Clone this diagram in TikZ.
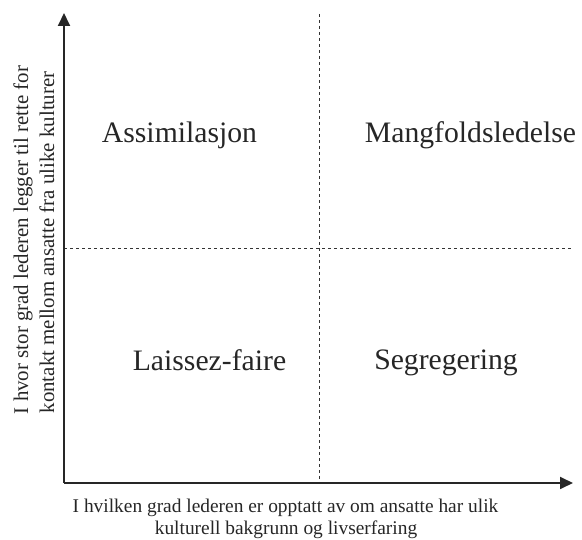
\documentclass[tikz,border=0pt]{standalone}
\usepackage{fontspec}
\setmainfont{Liberation Serif}
\usetikzlibrary{arrows.meta}
\begin{document}
\begin{tikzpicture}[x=1pt,y=-1pt,
  axis/.style={line width=1.8pt,draw=black!85,-{Triangle[length=13pt,width=12pt]}},
  divider/.style={line width=0.8pt,draw=black!80,dash pattern=on 3pt off 3pt},
  quad/.style={anchor=base,inner sep=0pt,font=\fontsize{29.7}{34}\selectfont,text=black!85},
  xlab/.style={anchor=base,inner sep=0pt,font=\fontsize{19.4}{23}\selectfont,text=black!85},
  ylab/.style={anchor=base,inner sep=0pt,rotate=90,font=\fontsize{20.9}{24}\selectfont,text=black!85}]
\useasboundingbox (0,0) rectangle (582,540);
\coordinate (O) at (64,483);
\coordinate (Ytop) at (64,13);
\coordinate (Xend) at (573,483);
\coordinate (Vtop) at (319,14);
\coordinate (Vbot) at (319,483);
\coordinate (Hl) at (64,248);
\coordinate (Hr) at (572,248);
\draw[divider] (Vtop) -- (Vbot);
\draw[divider] (Hl) -- (Hr);
\draw[axis] (O) -- (Ytop);
\draw[axis] (O) -- (Xend);
\node[quad] (assim) at (179.5,143) {Assimilasjon};
\node[quad] (mangf) at (470.5,143) {Mangfoldsledelse};
\node[quad] (laiss) at (209.5,371) {Laissez-faire};
\node[quad] (segr) at (446,370) {Segregering};
\node[xlab] (xl1) at (285.5,513) {I hvilken grad lederen er opptatt av om ansatte har ulik};
\node[xlab] (xl2) at (286,535) {kulturell bakgrunn og livserfaring};
\node[ylab] (yl1) at (28,240) {I hvor stor grad lederen legger til rette for};
\node[ylab] (yl2) at (54,242.5) {kontakt mellom ansatte fra ulike kulturer};
\end{tikzpicture}
\end{document}
